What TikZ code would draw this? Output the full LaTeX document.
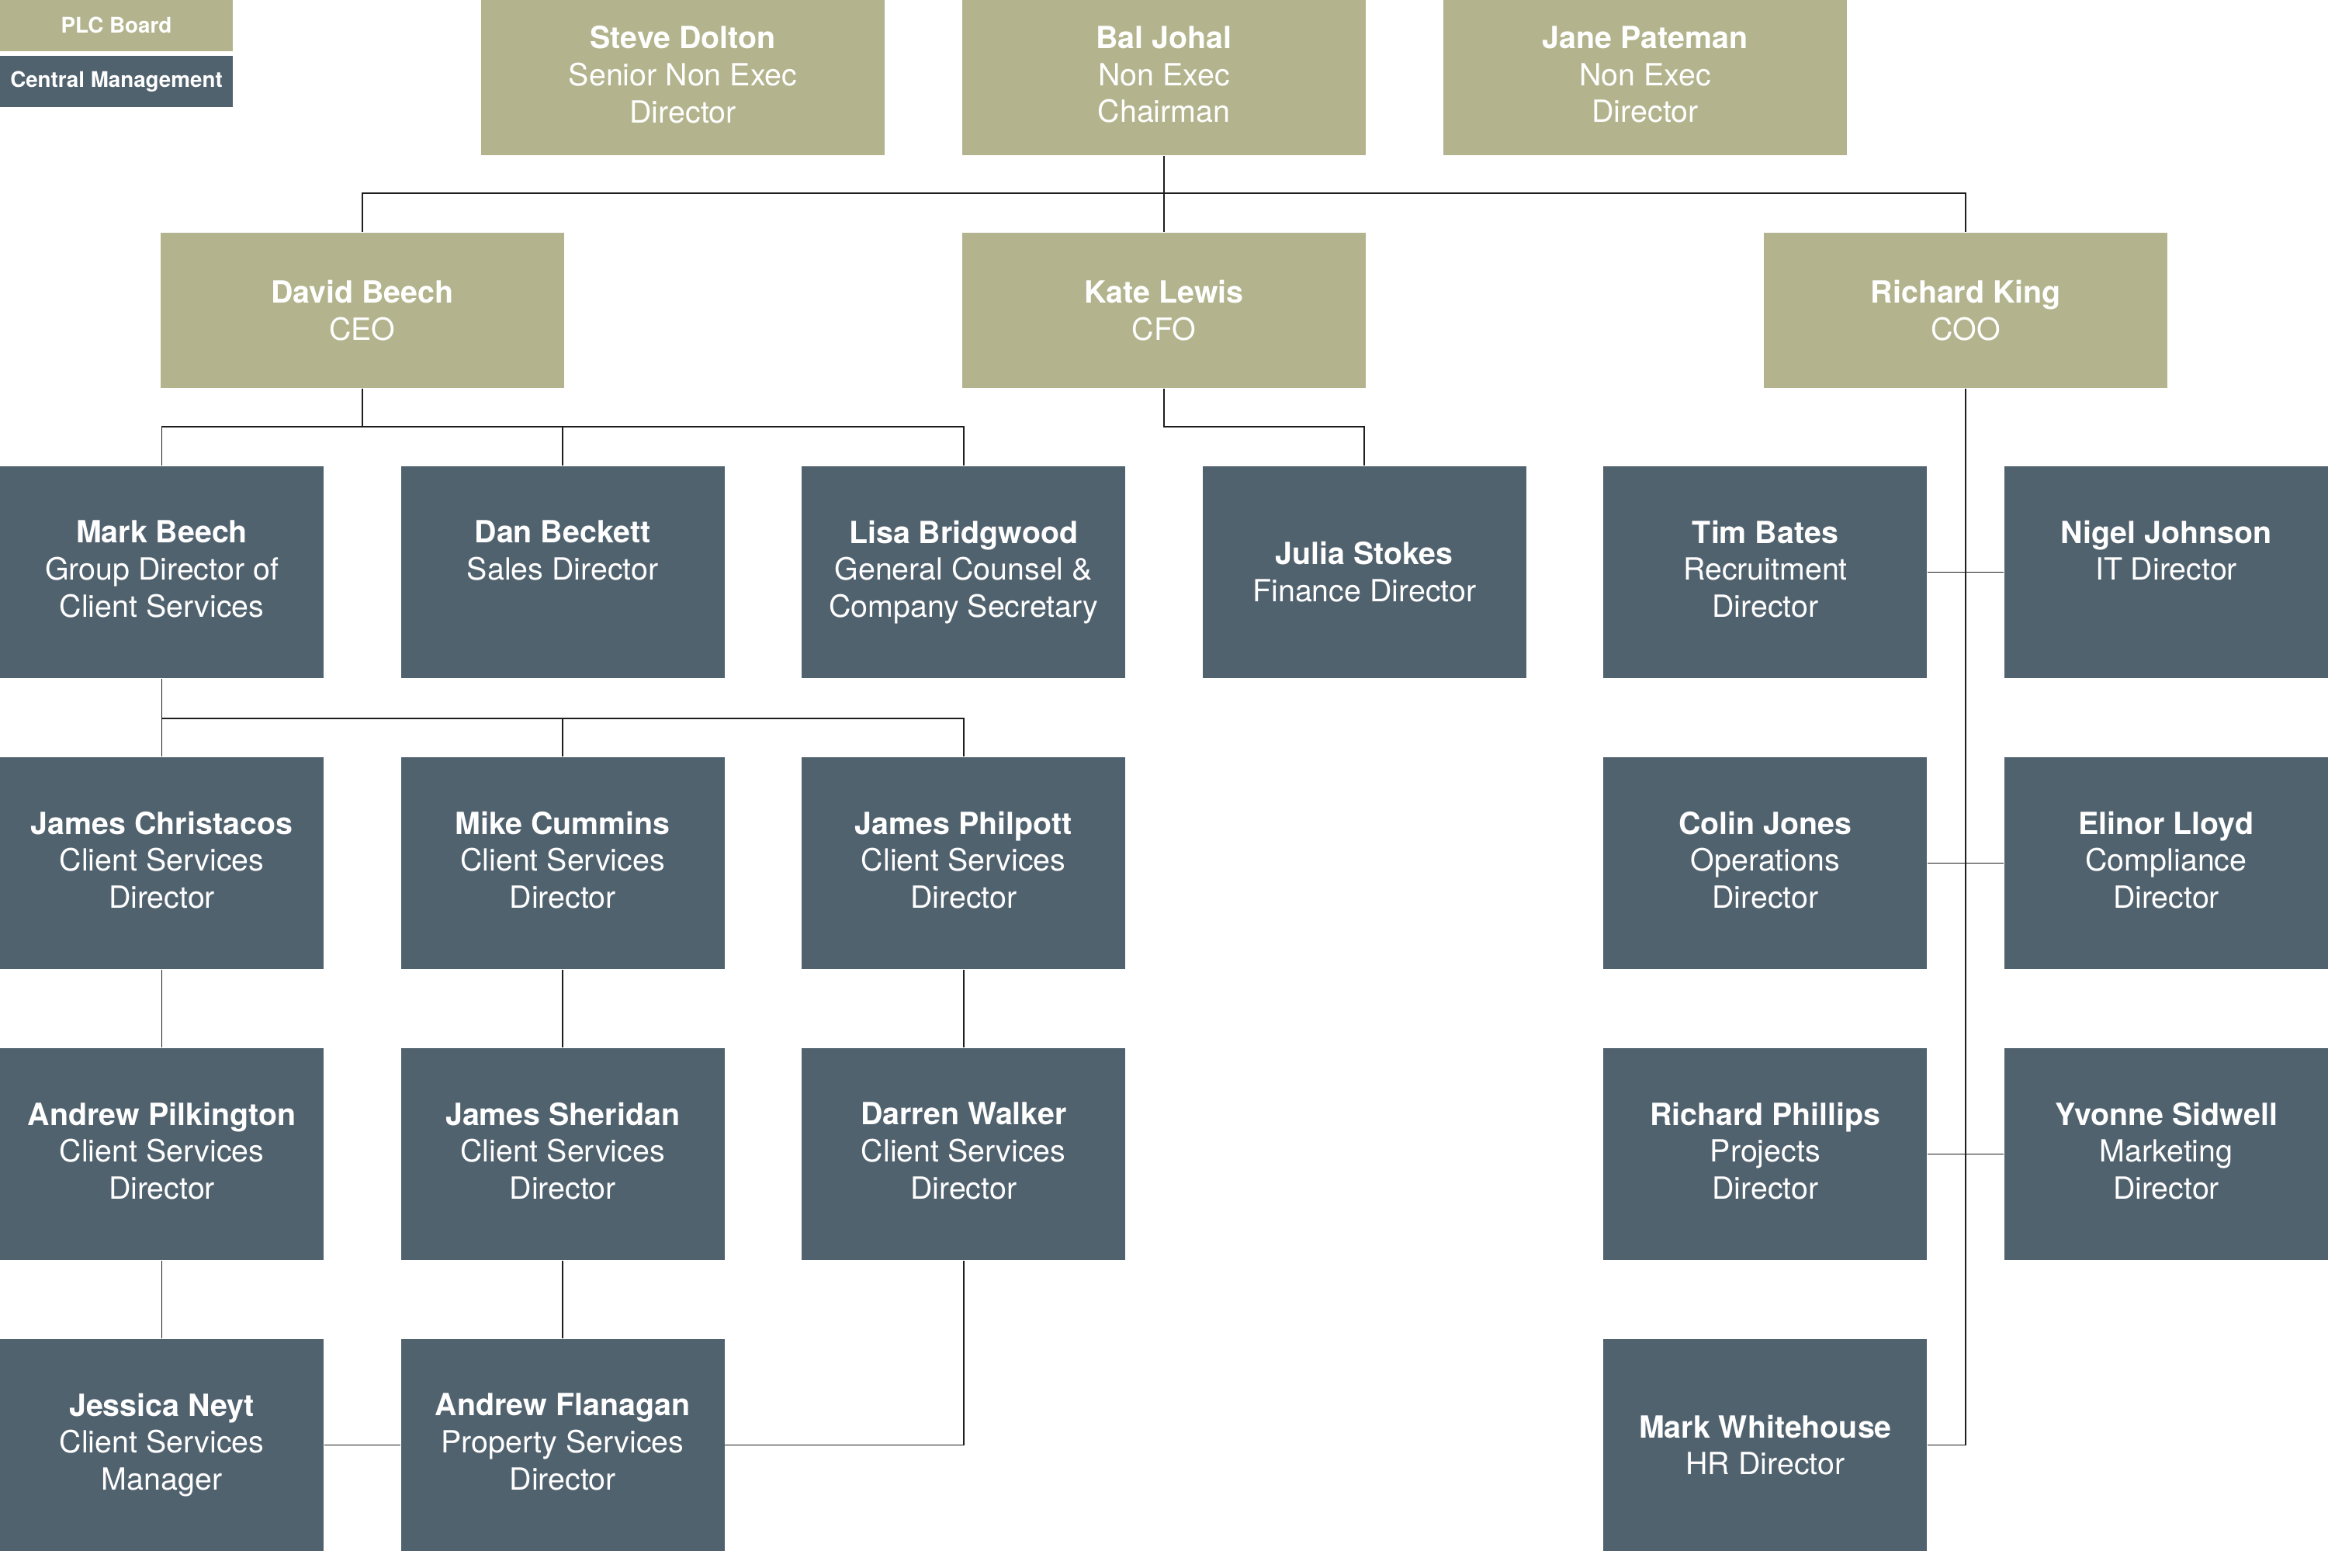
\documentclass[tikz,border=0pt]{standalone}
\usepackage{fontspec}
\setmainfont{TeX Gyre Heros}
\usetikzlibrary{positioning}

\definecolor{khaki}{RGB}{179,180,141}
\definecolor{slate}{RGB}{81,98,111}
\definecolor{ink}{RGB}{30,30,30}

\begin{document}
\begin{tikzpicture}[
  board/.style  = {fill=khaki, text=white, inner sep=0pt, align=center,
                   minimum width=5.2cm, minimum height=2cm,
                   font=\fontsize{11.2}{13.6}\selectfont},
  staff/.style  = {fill=slate, text=white, inner sep=0pt, align=center,
                   minimum width=4.17cm, minimum height=2.73cm,
                   font=\fontsize{11.2}{13.6}\selectfont},
  deep/.style   = {execute at end node={\rule[-2.4pt]{0pt}{0pt}}}, % three lines sit a touch high
  key/.style    = {text=white, inner sep=0pt, minimum width=3cm,
                   minimum height=0.66cm, font=\fontsize{7.9}{9}\selectfont\bfseries},
  wire/.style   = {draw=ink, line width=0.5pt},
]
  \useasboundingbox (0,0) rectangle (30,-20.2);

  % key, top left
  \node[key,fill=khaki] (keyplc) at (1.5,-0.325) {PLC Board};
  \node[key,fill=slate] (keycm)  at (1.5,-1.05)  {Central Management};

  % plc board: two rows of khaki boxes
  \node[board,deep] (dolton)  at (8.8,-1.0)  {\textbf{Steve Dolton}\\Senior Non Exec\\Director};
  \node[board,deep] (johal)   at (15.0,-1.0) {\textbf{Bal Johal}\\Non Exec\\Chairman};
  \node[board,deep] (pateman) at (21.2,-1.0) {\textbf{Jane Pateman}\\Non Exec\\Director};
  \node[board] (dbeech)  at (4.668,-4.0)  {\textbf{David Beech}\\CEO};
  \node[board] (lewis)   at (15.0,-4.0)   {\textbf{Kate Lewis}\\CFO};
  \node[board] (king)    at (25.332,-4.0) {\textbf{Richard King}\\COO};

  % central management: cols 1..6 / rows 1..4
  \node[staff,deep] (mbeech)     at (2.085,-7.375)  {\textbf{Mark Beech}\\Group Director of\\Client Services};
  \node[staff,deep] (beckett)    at (7.251,-7.375)  {\textbf{Dan Beckett}\\Sales Director\\~};
  \node[staff,deep] (bridgwood)  at (12.417,-7.375) {\textbf{Lisa Bridgwood}\\General Counsel \&\\Company Secretary};
  \node[staff] (stokes)          at (17.583,-7.375) {\textbf{Julia Stokes}\\Finance Director};
  \node[staff,deep] (bates)      at (22.749,-7.375) {\textbf{Tim Bates}\\Recruitment\\Director};
  \node[staff,deep] (njohnson)   at (27.915,-7.375) {\textbf{Nigel Johnson}\\IT Director\\~};

  \node[staff,deep] (christacos) at (2.085,-11.125)  {\textbf{James Christacos}\\Client Services\\Director};
  \node[staff,deep] (cummins)    at (7.251,-11.125)  {\textbf{Mike Cummins}\\Client Services\\Director};
  \node[staff,deep] (philpott)   at (12.417,-11.125) {\textbf{James Philpott}\\Client Services\\Director};
  \node[staff,deep] (cjones)     at (22.749,-11.125) {\textbf{Colin Jones}\\Operations\\Director};
  \node[staff,deep] (lloyd)      at (27.915,-11.125) {\textbf{Elinor Lloyd}\\Compliance\\Director};

  \node[staff,deep] (pilkington) at (2.085,-14.875)  {\textbf{Andrew Pilkington}\\Client Services\\Director};
  \node[staff,deep] (sheridan)   at (7.251,-14.875)  {\textbf{James Sheridan}\\Client Services\\Director};
  \node[staff,deep] (walker)     at (12.417,-14.875) {\textbf{Darren Walker}\\Client Services\\Director};
  \node[staff,deep] (phillips)   at (22.749,-14.875) {\textbf{Richard Phillips}\\Projects\\Director};
  \node[staff,deep] (sidwell)    at (27.915,-14.875) {\textbf{Yvonne Sidwell}\\Marketing\\Director};

  \node[staff,deep] (neyt)       at (2.085,-18.625)  {\textbf{Jessica Neyt}\\Client Services\\Manager};
  \node[staff,deep] (flanagan)   at (7.251,-18.625)  {\textbf{Andrew Flanagan}\\Property Services\\Director};
  \node[staff] (whitehouse)      at (22.749,-18.625) {\textbf{Mark Whitehouse}\\HR Director};

  % chairman to the executives
  \draw[wire] (johal) -- (lewis);
  \draw[wire] (dbeech.north) -- ++(0,0.5) -| (king.north);

  % ceo and cfo down to their reports
  \draw[wire] (dbeech.south) -- ++(0,-0.49) coordinate (ceobus);
  \draw[wire] (mbeech.north) |- (ceobus) -| (bridgwood.north);
  \draw[wire] (beckett) -- (beckett |- ceobus);
  \draw[wire] (lewis.south) -- ++(0,-0.49) -| (stokes.north);

  % coo: one spine, ties between the two columns
  \draw[wire] (king.south) |- (whitehouse.east);
  \draw[wire] (bates) -- (njohnson);
  \draw[wire] (cjones) -- (lloyd);
  \draw[wire] (phillips) -- (sidwell);

  % client services
  \draw[wire] (mbeech) -- (christacos);
  \draw[wire] (mbeech.south) -- ++(0,-0.51) -| (philpott.north);
  \draw[wire] (cummins.north) -- ++(0,0.5);
  \draw[wire] (christacos) -- (pilkington);
  \draw[wire] (pilkington) -- (neyt);
  \draw[wire] (cummins) -- (sheridan);
  \draw[wire] (sheridan) -- (flanagan);
  \draw[wire] (philpott) -- (walker);
  \draw[wire] (walker.south) |- (flanagan.east);
  \draw[wire] (neyt) -- (flanagan);
\end{tikzpicture}
\end{document}
